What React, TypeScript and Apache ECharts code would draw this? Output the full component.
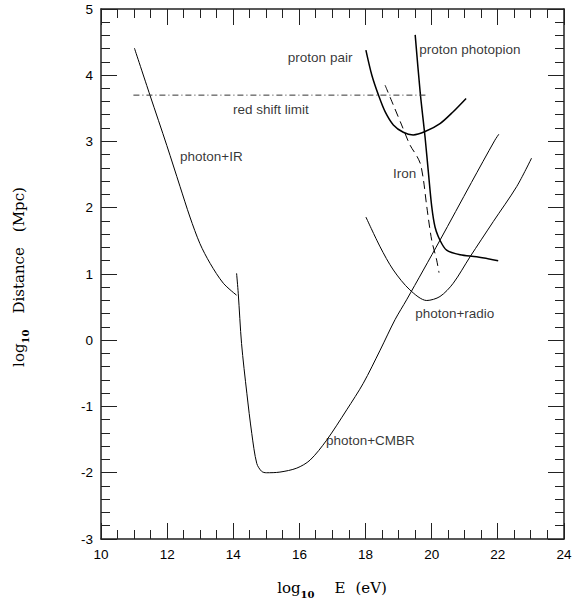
import React, { useEffect, useRef } from 'react';
import * as echarts from 'echarts';

// ---- data (log10 E [eV], log10 Distance [Mpc]) ----
const photonIR: number[][] = [
  [11.01, 4.41], [11.48, 3.70], [11.99, 2.94], [12.39, 2.32],
  [12.69, 1.86], [12.99, 1.46], [13.30, 1.16], [13.70, 0.86], [14.10, 0.68],
];
const photonCMBR: number[][] = [
  [14.10, 1.01], [14.15, 0.71], [14.25, -0.05], [14.41, -0.80], [14.56, -1.41],
  [14.71, -1.86], [14.86, -1.98], [15.0, -2.0], [15.41, -1.99], [15.92, -1.93],
  [16.32, -1.81], [16.82, -1.51], [17.43, -1.05], [17.93, -0.65], [18.44, -0.15],
  [18.89, 0.31], [19.24, 0.61], [20.25, 1.51], [21.2, 2.38], [21.91, 3.02], [22.03, 3.11],
];
const photonRadio: number[][] = [
  [18.01, 1.86], [18.44, 1.41], [18.84, 1.06], [19.34, 0.76], [19.85, 0.60],
  [20.25, 0.66], [20.65, 0.86], [21.16, 1.26], [21.86, 1.79], [22.57, 2.32], [23.02, 2.75],
];
const protonPhotopion: number[][] = [
  [19.50, 4.61], [19.65, 3.75], [19.80, 3.06], [19.90, 2.53], [20.0, 2.02],
  [20.10, 1.71], [20.25, 1.51], [20.45, 1.36], [20.86, 1.29], [21.36, 1.26], [22.01, 1.20],
];
const protonPair: number[][] = [
  [18.01, 4.38], [18.19, 4.0], [18.39, 3.70], [18.59, 3.45], [18.84, 3.25],
  [19.14, 3.14], [19.44, 3.10], [19.80, 3.15], [20.25, 3.27], [20.65, 3.45], [21.04, 3.65],
];
const iron: number[][] = [
  [18.59, 3.85], [18.84, 3.55], [19.09, 3.25], [19.34, 2.95], [19.55, 2.78],
  [19.66, 2.66], [19.75, 2.42], [19.85, 2.02], [20.0, 1.51], [20.15, 1.21], [20.22, 1.02],
];
const redShiftLimit: number[][] = [[10.98, 3.7], [19.9, 3.7]];

// curve annotations: text, x, y (left edge / vertical middle)
const labelTexts = ['proton pair', 'proton photopion', 'red shift limit', 'photon+IR', 'Iron', 'photon+radio', 'photon+CMBR'];
const labelX = [15.65, 19.62, 13.99, 12.39, 18.83, 19.5, 16.8];
const labelY = [4.27, 4.39, 3.48, 2.78, 2.51, 0.40, -1.51];

// axes: range, major step, minor subdivisions
const xMin = 10, xMax = 24, xStep = 2, xMinorSplit = 4;
const yMin = -3, yMax = 5, yStep = 1, yMinorSplit = 5;

const SANS = 'Liberation Sans';
const SERIF = 'DejaVu Serif';
const AXIS_COLOR = '#222';
const MAJOR_LEN = 16;
const MINOR_LEN = 9;

const PAD = 20;
const W = 640, H = 660;

// tick positions along each axis: [value, major (1) / minor (0)]
function buildTicks(min: number, max: number, step: number, split: number): number[][] {
  const out: number[][] = [];
  const n = Math.round(((max - min) / step) * split);
  for (let i = 0; i <= n; i++) out.push([min + (i * step) / split, i % split === 0 ? 1 : 0]);
  return out;
}
const xTicks = buildTicks(xMin, xMax, xStep, xMinorSplit);
const yTicks = buildTicks(yMin, yMax, yStep, yMinorSplit);

function axisCommon(showLabel: boolean) {
  return {
    axisLine: { show: true, onZero: false, lineStyle: { color: AXIS_COLOR, width: 1.5 } },
    axisTick: { show: false },
    minorTick: { show: false },
    splitLine: { show: false },
    axisLabel: {
      show: showLabel,
      color: '#000',
      fontFamily: SANS,
      fontSize: 13.5,
      margin: 8,
    },
  };
}

const titleRich = {
  l: { fontFamily: SERIF, fontSize: 15, fill: '#000', lineHeight: 22 },
  s: { fontFamily: SERIF, fontSize: 10, fontWeight: 'bold', fill: '#000', lineHeight: 14, verticalAlign: 'bottom' },
  m: { fontFamily: SERIF, fontSize: 15, fill: '#000', lineHeight: 22, padding: [0, 0, 0, 20] },
  n: { fontFamily: SERIF, fontSize: 15, fill: '#000', lineHeight: 22, padding: [0, 0, 0, 10] },
  p: { fontFamily: SERIF, fontSize: 15, fill: '#000', lineHeight: 22, padding: [0, 0, 0, 16] },
  q: { fontFamily: SERIF, fontSize: 15, fill: '#000', lineHeight: 22, padding: [0, 0, 0, 15] },
};

function lineSeries(data: number[][], width: number, type: any = 'solid') {
  return {
    type: 'line',
    data,
    xAxisIndex: 0,
    yAxisIndex: 0,
    showSymbol: false,
    symbol: 'none',
    smooth: 0.3,
    silent: true,
    lineStyle: { color: '#000', width, type },
  };
}

// tick rectangles (filled, 1px wide) at both ends of the plot, placed through the axes' scales
function tickRects(toPx: (v: number[]) => number[], isY: boolean, v: number, major: boolean) {
  const len = major ? MAJOR_LEN : MINOR_LEN;
  const style = { fill: AXIS_COLOR };
  if (!isY) {
    const b = toPx([v, yMin]);
    const t = toPx([v, yMax]);
    const x = Math.round(b[0] - 0.5);
    return [
      { type: 'rect', silent: true, z: 50, shape: { x, y: b[1] - len, width: 1, height: len }, style },
      { type: 'rect', silent: true, z: 50, shape: { x, y: t[1], width: 1, height: len }, style },
    ];
  }
  const l = toPx([xMin, v]);
  const r = toPx([xMax, v]);
  const y = Math.round(l[1] - 0.5);
  return [
    { type: 'rect', silent: true, z: 50, shape: { x: l[0], y, width: len, height: 1 }, style },
    { type: 'rect', silent: true, z: 50, shape: { x: r[0] - len, y, width: len, height: 1 }, style },
  ];
}

export default function App() {
  const ref = useRef<HTMLDivElement>(null);
  useEffect(() => {
    const chart = echarts.init(ref.current!, null, { renderer: 'svg' });
    const annotations = labelTexts.map((t, i) => [labelX[i], labelY[i], t]);
    chart.setOption({
      animation: false,
      backgroundColor: '#fff',
      grid: { left: 101 + PAD, top: 9 + PAD, width: 463, height: 530 },
      xAxis: [
        { type: 'value', min: xMin, max: xMax, interval: xStep, position: 'bottom', ...axisCommon(true) },
        { type: 'value', min: xMin, max: xMax, interval: xStep, position: 'top', ...axisCommon(false) },
      ],
      yAxis: [
        { type: 'value', min: yMin, max: yMax, interval: yStep, position: 'left', ...axisCommon(true) },
        { type: 'value', min: yMin, max: yMax, interval: yStep, position: 'right', ...axisCommon(false) },
      ],
      series: [
        lineSeries(photonIR, 1),
        lineSeries(photonCMBR, 1),
        lineSeries(photonRadio, 1),
        lineSeries(protonPhotopion, 1.5),
        lineSeries(protonPair, 1.5),
        lineSeries(iron, 1, [8, 5]),
        { ...lineSeries(redShiftLimit, 1), smooth: false, lineStyle: { color: '#333', width: 1, type: [6, 3, 1, 3] } },
        {
          type: 'scatter',
          data: annotations,
          symbolSize: 0,
          silent: true,
          label: {
            show: true,
            position: [0, 0],
            align: 'left',
            verticalAlign: 'middle',
            color: '#000',
            fontFamily: SANS,
            fontSize: 13.5,
            formatter: (p: any) => p.data[2],
          },
        },
      ],
    });

    const graphics: any[] = [
      {
        type: 'text',
        x: 332 + PAD,
        y: 588 + PAD,
        silent: true,
        style: { text: '{l|log}{s|10}{m|E}{n|(eV)}', rich: titleRich, align: 'center', verticalAlign: 'middle' },
      },
      {
        type: 'text',
        x: 19 + PAD,
        y: 277 + PAD,
        rotation: Math.PI / 2,
        silent: true,
        style: { text: '{l|log}{s|10}{p|Distance}{q|(Mpc)}', rich: titleRich, align: 'center', verticalAlign: 'middle' },
      },
    ];
    try {
      const toPx = (v: number[]) => chart.convertToPixel({ xAxisIndex: 0, yAxisIndex: 0 }, v) as number[];
      xTicks.forEach(([v, m]) => graphics.push(...tickRects(toPx, false, v, m === 1)));
      yTicks.forEach(([v, m]) => graphics.push(...tickRects(toPx, true, v, m === 1)));
    } catch (e) {
      // keep the titles even if the tick placement fails
    }
    chart.setOption({ graphic: graphics });
    return () => chart.dispose();
  }, []);
  return (
    <div
      ref={ref}
      style={{ position: 'fixed', left: -PAD, top: -PAD, width: W, height: H, background: '#fff' }}
    />
  );
}
